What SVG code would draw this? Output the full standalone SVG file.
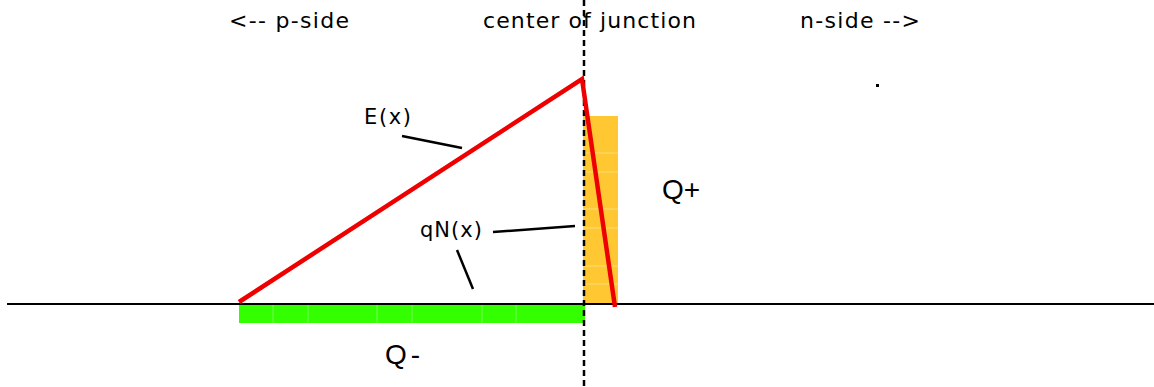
<svg xmlns="http://www.w3.org/2000/svg" width="1154" height="387" viewBox="0 0 1154 387">
<style>
text{font-family:"DejaVu Sans","Verdana",sans-serif;fill:#000}
.t{font-size:22px}
.q{font-size:28px;font-family:"Liberation Sans","Arial",sans-serif}
.lbl{font-size:21px}
.lead{stroke:#000;stroke-width:2.5;fill:none}
.div{stroke:#ffffff;stroke-opacity:0.35;stroke-width:1}
</style>
<rect width="1154" height="387" fill="#fff"/>
<g id="charge-pos">
<rect x="583" y="116" width="35" height="188" fill="#ffc832"/>
<g class="div"><line x1="583" y1="153" x2="618" y2="153"/><line x1="583" y1="172" x2="618" y2="172"/><line x1="583" y1="209" x2="618" y2="209"/><line x1="583" y1="228" x2="618" y2="228"/><line x1="583" y1="266" x2="618" y2="266"/><line x1="583" y1="284" x2="618" y2="284"/></g>
</g>
<g id="charge-neg">
<rect x="239" y="304" width="346" height="19" fill="#33ff00"/>
<g class="div"><line x1="273" y1="304" x2="273" y2="323"/><line x1="308" y1="304" x2="308" y2="323"/><line x1="377" y1="304" x2="377" y2="323"/><line x1="412" y1="304" x2="412" y2="323"/><line x1="482" y1="304" x2="482" y2="323"/><line x1="516" y1="304" x2="516" y2="323"/></g>
</g>
<g id="connectors">
<line x1="7" y1="304" x2="1154" y2="304" stroke="#000" stroke-width="2"/>
<line x1="584" y1="0" x2="584" y2="387" stroke="#000" stroke-width="2.5" stroke-dasharray="6 4"/>
<polyline points="239,302 582,79 615,307" fill="none" stroke="#ee0000" stroke-width="4.5" stroke-linejoin="miter"/>
<line class="lead" x1="402" y1="136" x2="462" y2="148"/>
<line class="lead" x1="493" y1="232" x2="575" y2="226"/>
<line class="lead" x1="457" y1="250" x2="473" y2="289"/>
</g>
<g id="labels">
<text class="t" x="229" y="28" textLength="120" lengthAdjust="spacing">&lt;-- p-side</text>
<text class="t" x="483" y="28" textLength="213" lengthAdjust="spacing">center of junction</text>
<text class="t" x="800" y="28" textLength="120" lengthAdjust="spacing">n-side --&gt;</text>
<text class="lbl" x="364" y="124" textLength="47" lengthAdjust="spacing">E(x)</text>
<text class="lbl" x="420" y="237" textLength="62" lengthAdjust="spacing">qN(x)</text>
<text class="q" x="662" y="199">Q+</text>
<text class="q" x="385" y="364" letter-spacing="4">Q-</text>
</g>
<rect id="dot" x="876" y="84" width="3" height="3" fill="#000"/>
</svg>
